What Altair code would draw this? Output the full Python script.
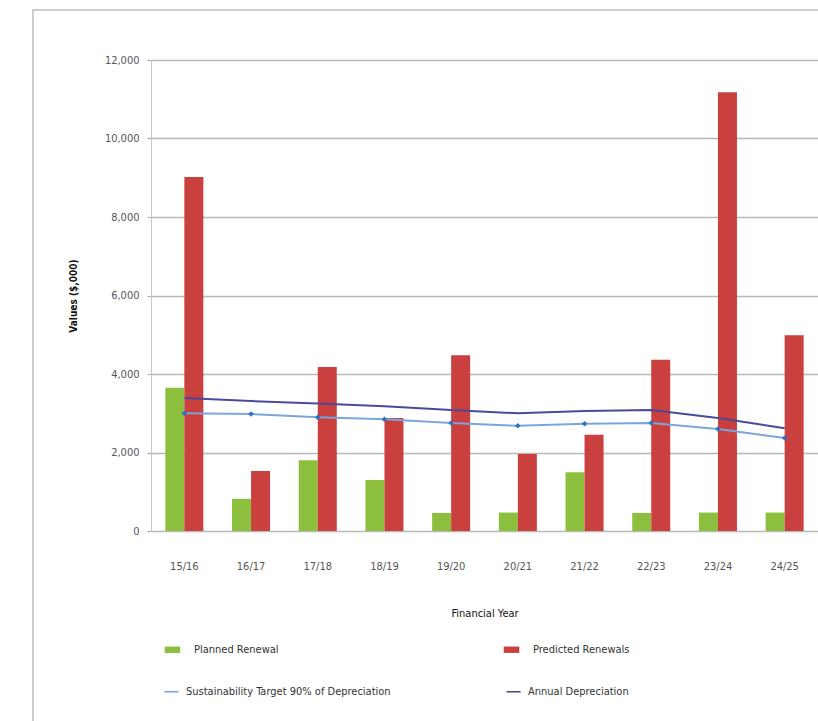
import altair as alt
import pandas as pd

# Financial years and series values ($,000)
years = ["15/16", "16/17", "17/18", "18/19", "19/20", "20/21", "21/22", "22/23", "23/24", "24/25"]
planned = [3650, 820, 1800, 1300, 460, 470, 1500, 460, 470, 470]
predicted = [9020, 1530, 4180, 2880, 4480, 1960, 2450, 4360, 11180, 4990]
target = [3000, 2980, 2900, 2850, 2750, 2680, 2730, 2750, 2600, 2370]
depreciation = [3390, 3310, 3250, 3180, 3080, 3000, 3060, 3080, 2880, 2620]

bar_names = ["Planned Renewal", "Predicted Renewals"]
line_names = ["Sustainability Target 90% of Depreciation", "Annual Depreciation"]

bars = pd.DataFrame(
    [{"year": y, "series": bar_names[0], "value": v} for y, v in zip(years, planned)]
    + [{"year": y, "series": bar_names[1], "value": v} for y, v in zip(years, predicted)]
)
lines = pd.DataFrame(
    [{"year": y, "series": line_names[0], "value": v} for y, v in zip(years, target)]
    + [{"year": y, "series": line_names[1], "value": v} for y, v in zip(years, depreciation)]
)

FONT = "Liberation Sans Narrow, DejaVu Sans Condensed, sans-serif"
W, H = 667, 471

x_enc = alt.X(
    "year:N",
    sort=years,
    title="Financial Year",
    scale=alt.Scale(paddingInner=0.43, paddingOuter=0.215),
    axis=alt.Axis(
        labelAngle=0, labelPadding=29, ticks=False, domain=False,
        labelColor="#555555", labelFontSize=11, labelFont=FONT,
        titleFont=FONT, titleFontSize=11, titleFontWeight="normal",
        titleColor="#111111", titlePadding=36,
    ),
)
y_scale = alt.Scale(domain=[0, 12000], nice=False)
y_enc = alt.Y(
    "value:Q",
    scale=y_scale,
    title="Values ($,000)",
    axis=alt.Axis(
        values=[0, 2000, 4000, 6000, 8000, 10000, 12000], format=",d",
        labelColor="#555555", labelFontSize=11, labelFont=FONT, labelPadding=8,
        tickSize=4, tickColor="#aaaaaa", domain=True, domainColor="#c8c8c8",
        gridColor="#b8b8b8", gridWidth=1.5,
        titleFont=FONT, titleFontSize=10, titleFontWeight="bold",
        titleColor="#111111", titlePadding=26,
    ),
)

bar_layer = alt.Chart(bars).mark_bar().encode(
    x=x_enc,
    y=y_enc,
    xOffset=alt.XOffset("series:N", sort=bar_names, scale=alt.Scale(paddingInner=0, paddingOuter=0)),
    fill=alt.Fill(
        "series:N",
        sort=bar_names,
        scale=alt.Scale(domain=bar_names, range=["#8dbf3f", "#c9403f"]),
        legend=alt.Legend(
            title=None, orient="none", legendX=14, legendY=582,
            direction="horizontal", columns=2, columnPadding=224,
            symbolType="M-1.1,-0.45H1.1V0.45H-1.1Z", symbolSize=200,
            symbolStrokeWidth=0, labelFont=FONT, labelFontSize=11,
            labelColor="#333333", labelOffset=14, labelLimit=400,
        ),
    ),
)

line_layer = alt.Chart(lines).mark_line(strokeWidth=2).encode(
    x=alt.X("year:N", sort=years),
    y=alt.Y("value:Q", scale=y_scale),
    stroke=alt.Stroke(
        "series:N",
        sort=line_names,
        scale=alt.Scale(domain=line_names, range=["#7aa6da", "#4a4a9a"]),
        legend=alt.Legend(
            title=None, orient="none", legendX=14, legendY=625,
            direction="horizontal", columns=2, columnPadding=112,
            symbolType="M-1.3,0H1.3", symbolSize=120, symbolStrokeWidth=1.6,
            labelFont=FONT, labelFontSize=11, labelColor="#333333",
            labelOffset=8, labelLimit=400,
        ),
    ),
    order=alt.Order("year:N"),
)

marker_layer = alt.Chart(lines[lines["series"] == line_names[0]]).mark_point(
    shape="diamond", filled=True, size=30, color="#2f6fc7", opacity=1
).encode(
    x=alt.X("year:N", sort=years),
    y=alt.Y("value:Q", scale=y_scale),
)

# outer frame around the whole chart
frame = alt.Chart(pd.DataFrame({"f": [0]})).mark_rect(
    fill=None, stroke="#bdbdbd", strokeWidth=1.5
).encode(
    x=alt.value(-118), x2=alt.value(690),
    y=alt.value(-50), y2=alt.value(680),
)

chart = (
    alt.layer(frame, bar_layer, line_layer, marker_layer)
    .resolve_scale(x="shared", y="shared")
    .properties(
        width=W, height=H,
        autosize=alt.AutoSizeParams(type="none"),
        padding={"left": 151, "top": 60, "right": 0, "bottom": 190},
        background="white",
    )
    .configure_view(stroke=None)
)

chart.save("out.html", embed_options={"renderer": "svg", "actions": False})
